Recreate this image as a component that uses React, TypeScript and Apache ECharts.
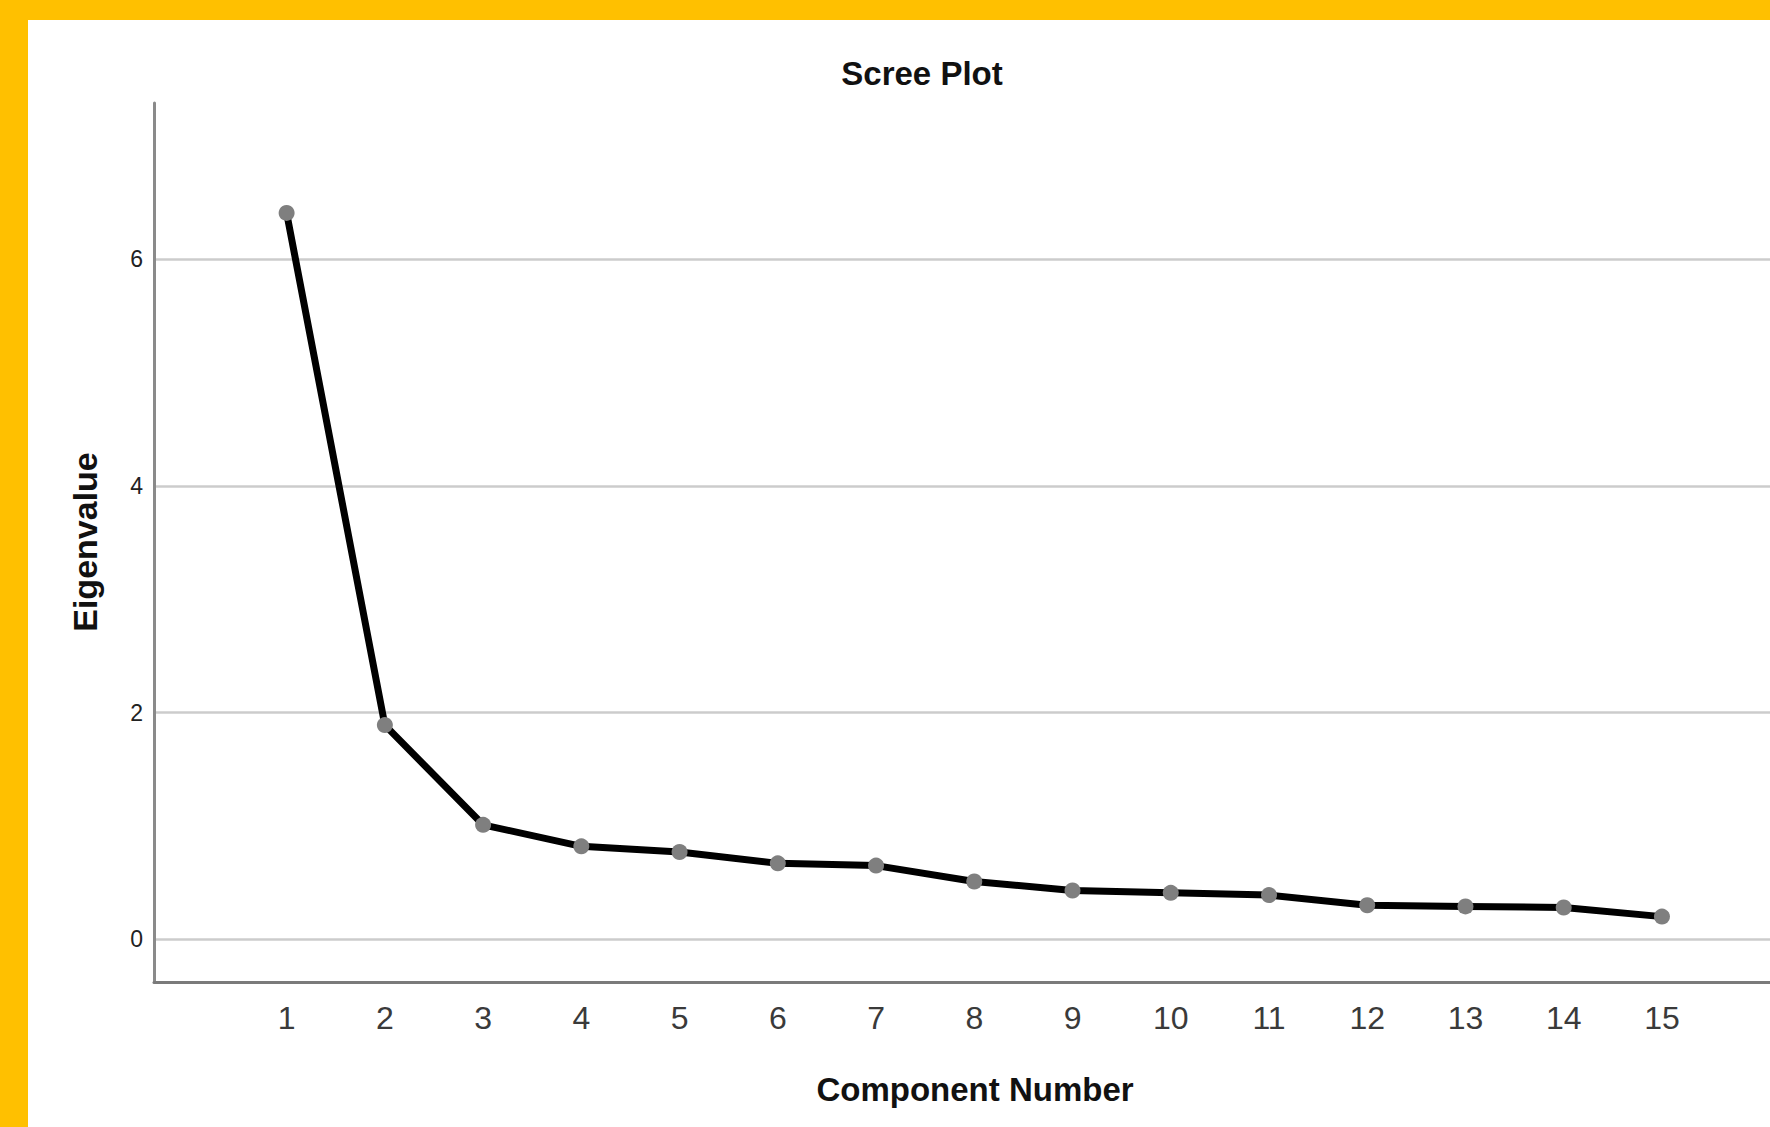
import React, { useEffect, useRef } from "react";
import * as echarts from "echarts";

const components = [1, 2, 3, 4, 5, 6, 7, 8, 9, 10, 11, 12, 13, 14, 15];
const eigenvalues = [6.41, 1.89, 1.01, 0.82, 0.77, 0.67, 0.65, 0.51, 0.43, 0.41, 0.39, 0.3, 0.29, 0.28, 0.2];
const yTicks = [0, 2, 4, 6];
const xTicks = components;

const FONT = "'Liberation Sans', Arial, sans-serif";

export default function App() {
  const ref = useRef<HTMLDivElement>(null);
  useEffect(() => {
    if (!ref.current) return;
    const chart = echarts.init(ref.current, undefined, { renderer: "svg" });
    const data = components.map((c, i) => [c, eigenvalues[i]]);
    chart.setOption({
      animation: false,
      backgroundColor: "#ffffff",
      graphic: [
        { type: "rect", shape: { x: 0, y: 0, width: 1770, height: 20 }, style: { fill: "#FFC000" }, z: 100 },
        { type: "rect", shape: { x: 0, y: 0, width: 28, height: 1127 }, style: { fill: "#FFC000" }, z: 100 },
        {
          type: "text",
          x: 922,
          y: 73,
          style: { text: "Scree Plot", fontFamily: FONT, fontSize: 33, fontWeight: "bold", fill: "#111", align: "center", verticalAlign: "middle" },
        },
        {
          type: "text",
          x: 975,
          y: 1089,
          style: { text: "Component Number", fontFamily: FONT, fontSize: 33, fontWeight: "bold", fill: "#111", align: "center", verticalAlign: "middle" },
        },
        {
          type: "text",
          x: 85,
          y: 542,
          rotation: Math.PI / 2,
          style: { text: "Eigenvalue", fontFamily: FONT, fontSize: 34, fontWeight: "bold", fill: "#111", align: "center", verticalAlign: "middle" },
        },
      ],
      grid: { left: 154, right: 0, top: 103, bottom: 145, containLabel: false },
      xAxis: {
        type: "value",
        min: -0.35,
        max: 16.1,
        axisLine: { show: true, onZero: false, lineStyle: { color: "#7a7a7a", width: 3 } },
        axisTick: { show: false, customValues: xTicks },
        splitLine: { show: false },
        axisLabel: {
          customValues: xTicks,
          fontFamily: FONT,
          fontSize: 32,
          color: "#3a3a3a",
          margin: 20,
          showMinLabel: true,
          showMaxLabel: true,
        },
      },
      yAxis: {
        type: "value",
        min: -0.377,
        max: 7.38,
        axisLine: { show: true, onZero: false, lineStyle: { color: "#8a8a8a", width: 3 } },
        axisTick: { show: false, customValues: yTicks },
        splitLine: { show: true, lineStyle: { color: "#cccccc", width: 2.5 } },
        axisLabel: {
          customValues: yTicks,
          fontFamily: FONT,
          fontSize: 23,
          color: "#222",
          margin: 11,
        },
      },
      series: [
        {
          type: "line",
          data,
          symbol: "circle",
          symbolSize: 16,
          showSymbol: true,
          itemStyle: { color: "#7f7f7f" },
          lineStyle: { color: "#000000", width: 7 },
          z: 3,
        },
      ],
    });
    return () => chart.dispose();
  }, []);
  return <div ref={ref} style={{ position: "absolute", left: 0, top: 0, width: 1770, height: 1127 }} />;
}
